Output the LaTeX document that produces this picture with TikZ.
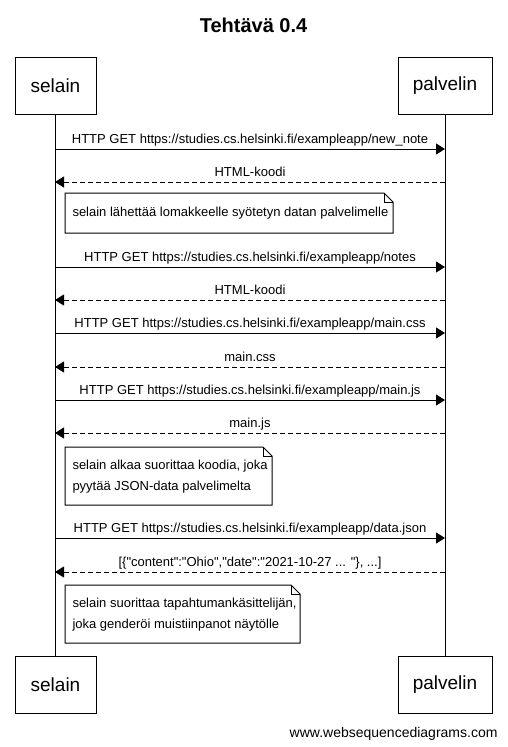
\documentclass[tikz,border=0pt]{standalone}
\usepackage{fontspec}
\setmainfont{Liberation Sans}[Ligatures=TeXOff]
\usetikzlibrary{arrows.meta}
\begin{document}
\begin{tikzpicture}[x=1pt,y=-1pt,line width=1pt,
  part/.style={draw, line width=1pt, inner sep=0pt, font=\fontsize{19}{23}\selectfont},
  lbl/.style={anchor=base, inner sep=0pt, font=\fontsize{13}{16}\selectfont},
  notetext/.style={anchor=west, align=left, inner sep=0pt, font=\fontsize{13}{21}\selectfont},
  notebox/.style={draw, line width=1pt, line join=miter},
  req/.style={-{Triangle[length=9pt,width=11pt]}},
  resp/.style={req, dash pattern=on 5pt off 3pt},
  titlestyle/.style={anchor=base, inner sep=0pt, font=\fontsize{20}{24}\selectfont\bfseries},
  footer/.style={anchor=base east, inner sep=0pt, font=\fontsize{14}{16}\selectfont}
]
\fill[white] (0,0) rectangle (507,747);
\useasboundingbox (0,0) rectangle (507,747);

\node[titlestyle] (title) at (253.5,32) {Tehtävä 0.4};

% participants
\node[part, minimum width=81pt, minimum height=57pt] (selT) at (55.5,85.5) {selain};
\node[part, minimum width=94pt, minimum height=57pt] (palT) at (445,85.5) {palvelin};
\node[part, minimum width=81pt, minimum height=57pt] (selB) at (55.5,684.5) {selain};
\node[part, minimum width=94pt, minimum height=57pt] (palB) at (445,684.5) {palvelin};

% lifelines
\coordinate (sl1) at (55,114);
\coordinate (sl2) at (55,656);
\coordinate (pl1) at (445,114);
\coordinate (pl2) at (445,656);
\draw (sl1) -- (sl2);
\draw (pl1) -- (pl2);

% message endpoints
\foreach \i/\y in {1/149,2/182,3/267,4/300,5/333,6/367,7/400,8/433,9/538,10/572}{
  \coordinate (s\i) at (55,\y);
  \coordinate (p\i) at (445,\y);
}

\draw[req] (s1) -- (p1);
\node[lbl] (l1) at (250,143.5) {HTTP GET https://studies.cs.helsinki.fi/exampleapp/new\_note};
\draw[resp] (p2) -- (s2);
\node[lbl] (l2) at (250,176.5) {HTML-koodi};

% note 1
\coordinate (n1a) at (65,193);
\coordinate (n1b) at (393,233);
\draw[notebox] (n1a) -- (384,193) -- (393,202) -- (n1b) -- (65,233) -- cycle;
\draw[notebox] (384,193) -- (384,202) -- (393,202);
\node[notetext] (n1) at (72,213.5) {selain lähettää lomakkeelle syötetyn datan palvelimelle};

\draw[req] (s3) -- (p3);
\node[lbl] (l3) at (250,261.5) {HTTP GET https://studies.cs.helsinki.fi/exampleapp/notes};
\draw[resp] (p4) -- (s4);
\node[lbl] (l4) at (250,294.5) {HTML-koodi};
\draw[req] (s5) -- (p5);
\node[lbl] (l5) at (250,327.5) {HTTP GET https://studies.cs.helsinki.fi/exampleapp/main.css};
\draw[resp] (p6) -- (s6);
\node[lbl] (l6) at (250,361.5) {main.css};
\draw[req] (s7) -- (p7);
\node[lbl] (l7) at (250,394.5) {HTTP GET https://studies.cs.helsinki.fi/exampleapp/main.js};
\draw[resp] (p8) -- (s8);
\node[lbl] (l8) at (250,427.5) {main.js};

% note 2
\coordinate (n2a) at (65,447);
\coordinate (n2b) at (272,505);
\draw[notebox] (n2a) -- (263,447) -- (272,456) -- (n2b) -- (65,505) -- cycle;
\draw[notebox] (263,447) -- (263,456) -- (272,456);
\node[notetext] (n2) at (72,477) {selain alkaa suorittaa koodia, joka\\pyytää JSON-data palvelimelta};

\draw[req] (s9) -- (p9);
\node[lbl] (l9) at (250,532.5) {HTTP GET https://studies.cs.helsinki.fi/exampleapp/data.json};
\draw[resp] (p10) -- (s10);
\node[lbl] (l10) at (250,566.5) {[\{"content":"Ohio","date":"2021-10-27 ... "\}, ...]};

% note 3
\coordinate (n3a) at (65,585);
\coordinate (n3b) at (300,643);
\draw[notebox] (n3a) -- (291,585) -- (300,594) -- (n3b) -- (65,643) -- cycle;
\draw[notebox] (291,585) -- (291,594) -- (300,594);
\node[notetext] (n3) at (72,615) {selain suorittaa tapahtumankäsittelijän,\\joka genderöi muistiinpanot näytölle};

\node[footer] (foot) at (498,737) {www.websequencediagrams.com};
\end{tikzpicture}
\end{document}
